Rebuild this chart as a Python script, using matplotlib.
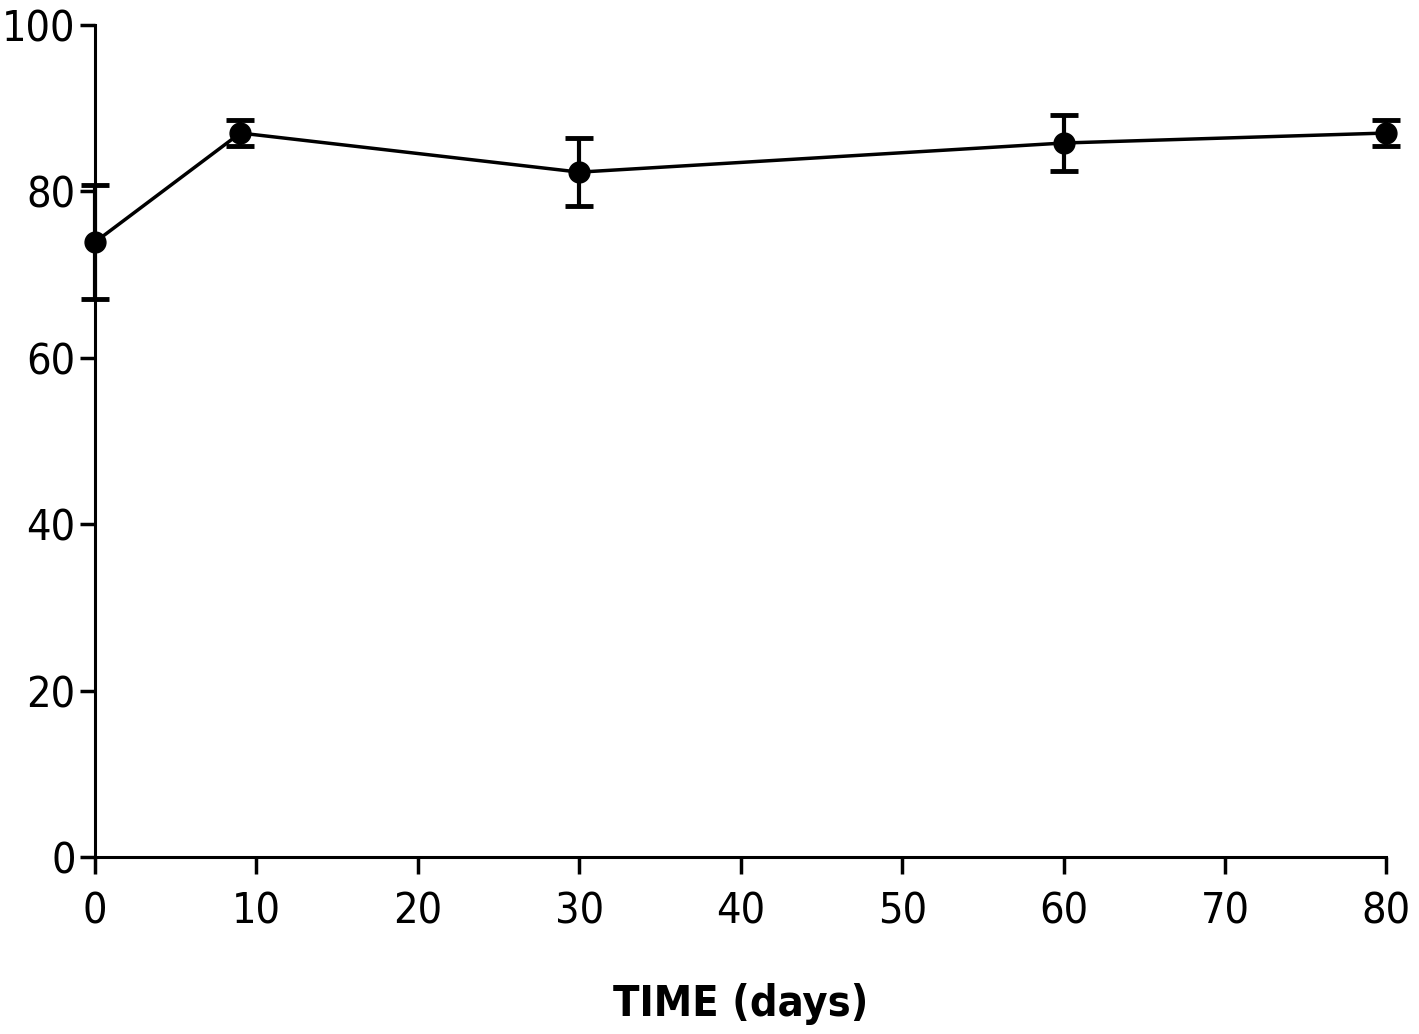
import numpy as np
import matplotlib
matplotlib.use("Agg")
import matplotlib.pyplot as plt
from matplotlib import font_manager

# values
days = [0, 9, 30, 60, 80]
mean_val = [73.9, 87.0, 82.3, 85.8, 87.0]
err_val = [6.9, 1.6, 4.1, 3.4, 1.6]

xticks = [0, 10, 20, 30, 40, 50, 60, 70, 80]
yticks = [0, 20, 40, 60, 80, 100]

# a narrow face looks closest to the original lettering, if one is there
narrow = [f.name for f in font_manager.fontManager.ttflist
          if f.stretch in ('condensed', 'semi-condensed', 'extra-condensed')
          or 'Narrow' in f.name or 'Condensed' in f.name]
if narrow:
    plt.rcParams['font.family'] = [narrow[0], 'DejaVu Sans']
    plt.rcParams['font.stretch'] = 'condensed'
    fs = 31
else:
    plt.rcParams['font.family'] = ['DejaVu Sans']
    fs = 27

fig = plt.figure(figsize=(14.19, 10.34), dpi=100)
ax = fig.add_axes([0.067, 0.171, 0.91, 0.805])

ax.errorbar(days, mean_val, yerr=err_val, color='black', lw=2.5,
            marker='o', ms=15, capsize=10, capthick=3.5, elinewidth=3,
            clip_on=False, zorder=3)

ax.set_xlim(0, 80)
ax.set_ylim(0, 100)
ax.set_xticks(xticks)
ax.set_yticks(yticks)

for s in ['top', 'right']:
    ax.spines[s].set_visible(False)
for s in ['left', 'bottom']:
    ax.spines[s].set_linewidth(2.2)

ax.tick_params(axis='both', direction='out', width=2.5, labelsize=fs)
ax.tick_params(axis='x', length=12, pad=12)
ax.tick_params(axis='y', length=11, pad=3)

ax.set_xlabel('TIME (days)', fontsize=fs, fontweight='bold', labelpad=36)

fig.savefig('out.png', dpi=100)
